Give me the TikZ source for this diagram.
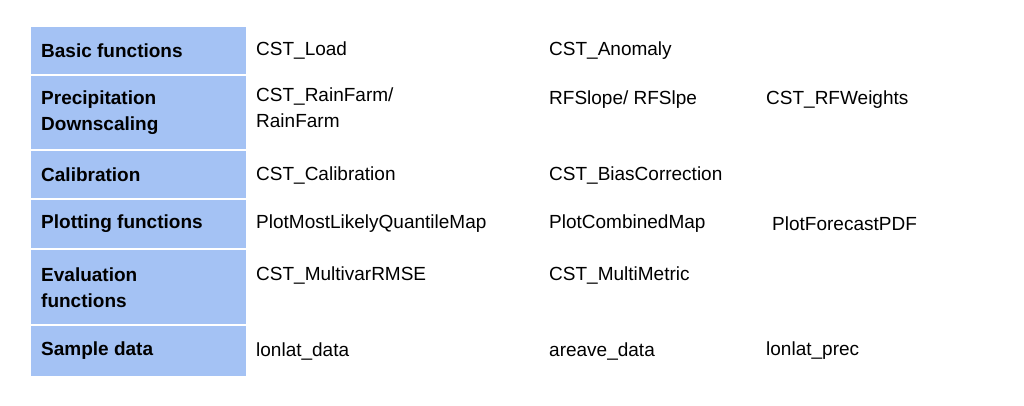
\documentclass[tikz,border=0pt]{standalone}
\usepackage{fontspec}
\setmainfont{Liberation Sans}
\begin{document}
\begin{tikzpicture}[x=1pt,y=-1pt,
  hd/.style={anchor=west,font=\fontsize{19}{26}\selectfont\bfseries,align=left,inner sep=0pt},
  tx/.style={anchor=west,font=\fontsize{19}{26}\selectfont,align=left,inner sep=0pt}]
\useasboundingbox (0,0) rectangle (1024,405);
\definecolor{cb}{HTML}{A4C2F4}
\foreach \a/\b in {27/74,76/149,151/198,200/248,250/324,326/376}
  \fill[cb] (31,\a) rectangle (246,\b);
\node[hd] (h1) at (41,51) {Basic functions};
\node[hd] (h2) at (41,113) {Precipitation\\Downscaling};
\node[hd] (h3) at (41,175) {Calibration};
\node[hd] (h4) at (41,224) {Plotting functions};
\node[hd] (h5) at (41,288) {Evaluation\\functions};
\node[hd] (h6) at (41,351) {Sample data};
\node[tx] (a1) at (256,51) {CST\_Load};
\node[tx] (b1) at (549,51) {CST\_Anomaly};
\node[tx,anchor=north west] (a2) at (256,88) {CST\_RainFarm/\\RainFarm};
\node[tx] (b2) at (549,100) {RFSlope/ RFSlpe};
\node[tx] (c2) at (766,100) {CST\_RFWeights};
\node[tx] (a3) at (256,175) {CST\_Calibration};
\node[tx] (b3) at (549,175) {CST\_BiasCorrection};
\node[tx] (a4) at (256,224) {PlotMostLikelyQuantileMap};
\node[tx] (b4) at (549,224) {PlotCombinedMap};
\node[tx] (c4) at (772,224) {PlotForecastPDF};
\node[tx] (a5) at (256,275) {CST\_MultivarRMSE};
\node[tx] (b5) at (549,275) {CST\_MultiMetric};
\node[tx] (a6) at (256,351) {lonlat\_data};
\node[tx] (b6) at (549,351) {areave\_data};
\node[tx] (c6) at (766,351) {lonlat\_prec};
\end{tikzpicture}
\end{document}
